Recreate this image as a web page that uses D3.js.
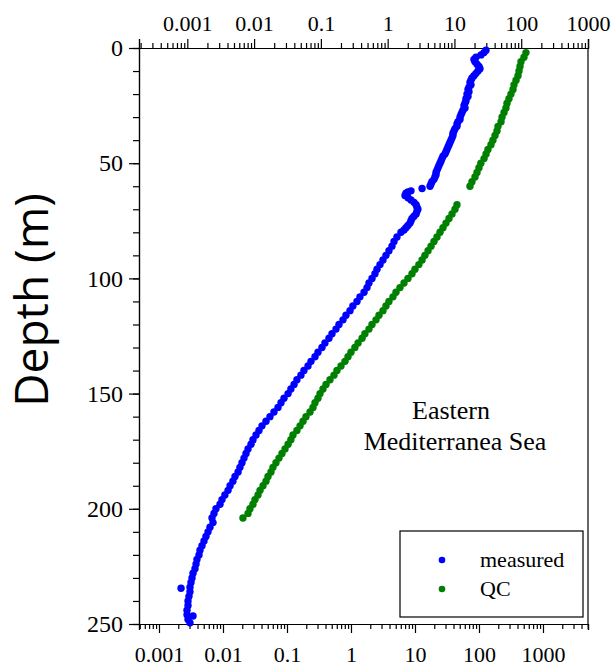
<!DOCTYPE html>
<html lang="en">
	<head>
		<meta charset="utf-8">
		<title>Depth profile</title>
		<script src="https://d3js.org/d3.v7.min.js"></script>
		<style type="text/css">
			body { margin: 0; background: white; }
			.tick text { font-family: "Liberation Serif", "Times New Roman", serif; fill: black; }
			.axis path, .axis line { stroke: black; stroke-width: 1.2; }
		</style>
	</head>
	<body>
		<script type="text/javascript">

			//Tick labels
			var xTickValues = [0.001, 0.01, 0.1, 1, 10, 100, 1000];
			var xTickLabels = ["0.001", "0.01", "0.1", "1", "10", "100", "1000"];
			var depthTicks = [0, 50, 100, 150, 200, 250];
			var legendNames = ["measured", "QC"];

			//[depth (m), value]
			var measured = [
				[1,128.6],[2,119.7],[3,107.5],[4,89.8],[5,83.5],[6,86.6],[7,93.1],[8,100],[9,103.7],[10,96.5],
				[11,89.8],[12,83.5],[13,77.7],[14,75.0],[15,72.3],[16,75.0],[17,69.8],[18,67.3],[19,69.8],[20,64.9],
				[21,67.3],[22,62.6],[23,62.6],[24,60.4],[25,58.3],[26,60.4],[27,56.2],[28,54.2],[29,52.3],[30,50.5],
				[31,50.5],[32,47.0],[33,45.3],[34,45.3],[35,42.2],[36,40.7],[37,39.2],[38,39.2],[39,37.9],[40,36.5],
				[41,35.2],[42,34.0],[43,32.8],[44,31.6],[45,30.5],[46,29.4],[47,27.4],[48,26.4],[49,25.5],[50,24.6],
				[51,23.7],[52,22.9],[53,22.1],[54,21.3],[55,21.3],[56,20.5],[57,19.8],[58,18.4],[59,17.8],[60,17.2],
				[61,12.9],[62,8.66],[62.5,7.77],[63,7.23],[64,6.98],[65,7.77],[66,8.66],[67,9.65],[68,10.4],[69,10.7],
				[70,11.1],[71,10.7],[72,10.4],[73,9.65],[74,8.98],[75,8.66],[76,8.35],[77,7.77],[78,7.23],[79,6.73],
				[80,6.04],[82,5.23],[84,4.70],[86,4.37],[88,3.92],[90,3.52],[92,3.16],[94,2.84],[96,2.55],[98,2.37],
				[100,2.13],[102,1.91],[104,1.78],[106,1.60],[108,1.38],[110,1.24],[112,1.07],[114,0.965],[116,0.835],[118,0.750],
				[120,0.649],[122,0.583],[124,0.505],[126,0.453],[128,0.392],[130,0.352],[132,0.305],[134,0.274],[136,0.237],[138,0.213],
				[140,0.184],[142,0.165],[144,0.143],[146,0.129],[148,0.115],[150,0.104],[152,0.0898],[154,0.0806],[156,0.0723],[158,0.0626],
				[160,0.0542],[162,0.0470],[164,0.0407],[166,0.0365],[168,0.0328],[170,0.0294],[172,0.0274],[174,0.0246],[176,0.0229],[178,0.0213],
				[180,0.0198],[182,0.0184],[184,0.0172],[186,0.0154],[188,0.0143],[190,0.0129],[192,0.0120],[194,0.0107],[196,0.00965],[198,0.00898],
				[200,0.00777],[202,0.00723],[204,0.00673],[206,0.00698],[208,0.00626],[210,0.00583],[212,0.00542],[214,0.00505],[216,0.00470],[218,0.00437],
				[220,0.00422],[222,0.00392],[224,0.00379],[226,0.00365],[228,0.00340],[230,0.00328],[232,0.00316],[234,0.00305],[234.5,0.00221],[236,0.00305],
				[238,0.00294],[240,0.00284],[242,0.00284],[244,0.00274],[246,0.00274],[246.5,0.00340],[248,0.00284],[249.5,0.00305]
			];

			var qc = [
				[2,542],[4,505],[6,453],[8,437],[10,422],[12,407],[14,379],[16,352],[18,340],[20,316],
				[22,294],[24,274],[26,264],[28,246],[30,229],[32,221],[34,198],[36,191],[38,178],[40,165],
				[42,154],[44,138],[46,129],[48,120],[50,107],[52,100],[54,93.1],[56,86.6],[58,77.7],[60,72.3],
				[68,45.3],[70,42.2],[72,37.9],[74,34.0],[76,30.5],[78,27.4],[80,24.6],[82,22.1],[84,19.8],[86,17.8],
				[88,16.0],[90,14.3],[92,12.9],[94,11.5],[96,10.0],[98,8.98],[100,7.77],[102,6.73],[104,5.83],[106,5.05],
				[108,4.53],[110,3.92],[112,3.52],[114,3.16],[116,2.74],[118,2.46],[120,2.13],[122,1.91],[124,1.65],[126,1.49],
				[128,1.29],[130,1.15],[132,1.00],[134,0.898],[136,0.806],[138,0.698],[140,0.604],[142,0.542],[144,0.470],[146,0.407],
				[148,0.365],[150,0.328],[152,0.305],[154,0.274],[156,0.255],[158,0.229],[160,0.198],[162,0.178],[164,0.160],[166,0.143],
				[168,0.124],[170,0.115],[172,0.104],[174,0.0931],[176,0.0835],[178,0.0750],[180,0.0673],[182,0.0604],[184,0.0562],[186,0.0505],
				[188,0.0470],[190,0.0422],[192,0.0379],[194,0.0352],[196,0.0316],[198,0.0294],[200,0.0264],[202,0.0246],[204,0.0205]
			];

			var colors = ["#0000ff", "#008000"];

			//Width and height
			var w = 616;
			var h = 670;
			var plotLeft = 139, plotRight = 588, plotTop = 48, plotBottom = 624;

			//Scales (the two log axes in the figure are not aligned)
			var xBottom = d3.scaleLog().domain([4.87e-4, 5050]).range([plotLeft, plotRight]);
			var xTop = d3.scaleLog().domain([1.89e-4, 1000]).range([plotLeft, plotRight]);
			var y = d3.scaleLinear().domain([0, 250]).range([plotTop, plotBottom]);

			var svg = d3.select("body")
						.append("svg")
						.attr("width", w)
						.attr("height", h);

			svg.append("rect").attr("width", w).attr("height", h).attr("fill", "white");

			function labelOf(d) { return xTickLabels[xTickValues.indexOf(d)]; }
			function minorOf(scale) {
				return scale.ticks().filter(function(t) {
					var l = Math.log10(t);
					return Math.abs(l - Math.round(l)) > 1e-6;
				});
			}

			//Top axis
			svg.append("g").attr("class", "axis")
				.attr("transform", "translate(0," + plotTop + ")")
				.call(d3.axisTop(xTop).tickValues(minorOf(xTop)).tickSize(5).tickSizeOuter(9).tickFormat(""));
			svg.append("g").attr("class", "axis")
				.attr("transform", "translate(0," + plotTop + ")")
				.call(d3.axisTop(xTop).tickValues(xTickValues).tickSize(9).tickSizeOuter(9).tickPadding(8).tickFormat(labelOf))
				.selectAll("text").style("font-size", "22px");

			//Bottom axis
			svg.append("g").attr("class", "axis")
				.attr("transform", "translate(0," + plotBottom + ")")
				.call(d3.axisBottom(xBottom).tickValues(minorOf(xBottom)).tickSize(5).tickSizeOuter(6).tickFormat(""));
			svg.append("g").attr("class", "axis")
				.attr("transform", "translate(0," + plotBottom + ")")
				.call(d3.axisBottom(xBottom).tickValues(xTickValues).tickSize(9).tickSizeOuter(6).tickPadding(13).tickFormat(labelOf))
				.selectAll("text").style("font-size", "22px");

			//Left axis
			svg.append("g").attr("class", "axis")
				.attr("transform", "translate(" + plotLeft + ",0)")
				.call(d3.axisLeft(y).ticks(25).tickSize(6).tickSizeOuter(0).tickFormat(""));
			svg.append("g").attr("class", "axis")
				.attr("transform", "translate(" + plotLeft + ",0)")
				.call(d3.axisLeft(y).tickValues(depthTicks).tickSize(10).tickSizeOuter(0).tickPadding(6))
				.selectAll("text").style("font-size", "24px");

			//Right border
			svg.append("line")
				.attr("x1", plotRight).attr("x2", plotRight)
				.attr("y1", plotTop).attr("y2", plotBottom)
				.attr("stroke", "black").attr("stroke-width", 1.2);

			//Axis title
			svg.append("text")
				.attr("transform", "translate(48,300) rotate(-90)")
				.attr("text-anchor", "middle")
				.style("font-family", "'Open Sans', sans-serif")
				.style("font-size", "46px")
				.text("Depth (m)");

			//Dots
			[measured, qc].forEach(function(series, i) {
				svg.append("g").selectAll("circle")
					.data(series)
					.enter()
					.append("circle")
					.attr("cx", function(d) { return xBottom(d[1]); })
					.attr("cy", function(d) { return y(d[0]); })
					.attr("r", 3.7)
					.attr("fill", colors[i]);
			});

			//Region note
			var note = svg.append("text")
				.attr("text-anchor", "middle")
				.style("font-family", "'Liberation Serif', serif")
				.style("font-size", "26px");
			note.append("tspan").attr("x", 451).attr("y", 419).text("Eastern");
			note.append("tspan").attr("x", 455).attr("y", 450).text("Mediterranea Sea");

			//Legend
			svg.append("rect")
				.attr("x", 400).attr("y", 531)
				.attr("width", 183).attr("height", 86)
				.attr("fill", "white").attr("stroke", "black").attr("stroke-width", 1.2);

			legendNames.forEach(function(name, i) {
				svg.append("circle")
					.attr("cx", 442).attr("cy", 560 + i * 29)
					.attr("r", 3.3).attr("fill", colors[i]);
				svg.append("text")
					.attr("x", 480).attr("y", 567 + i * 29)
					.style("font-family", "'Liberation Serif', serif")
					.style("font-size", "22px")
					.text(name);
			});
		</script>
	</body>
</html>
